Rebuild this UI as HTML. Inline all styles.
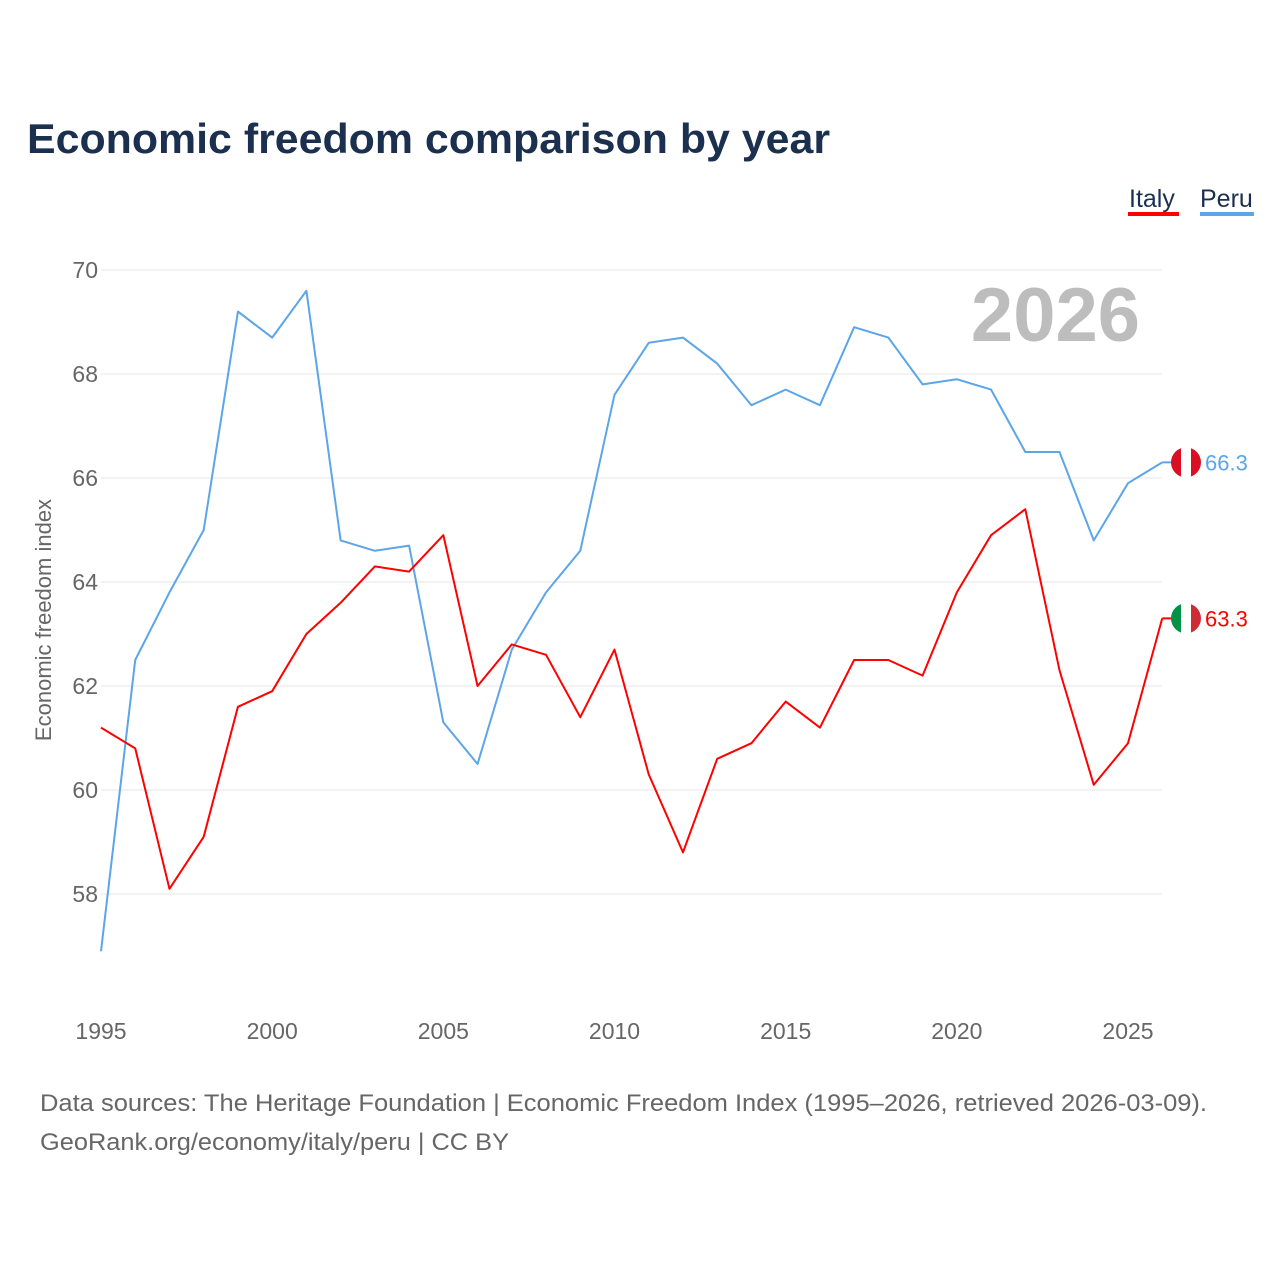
<!DOCTYPE html>
<html><head><meta charset="utf-8"><style>
body{margin:0;background:#fff;width:1280px;height:1280px;overflow:hidden;font-family:"Liberation Sans",sans-serif}
</style></head><body>
<svg id="chart" width="1280" height="1280" xmlns="http://www.w3.org/2000/svg">
<text x="27" y="153" font-size="42" font-weight="bold" fill="#1b2f4e" textLength="803" lengthAdjust="spacingAndGlyphs">Economic freedom comparison by year</text>
<g>
<text x="1129" y="207" font-size="25" fill="#1b2f4e">Italy</text>
<rect x="1128" y="212" width="51" height="4" fill="#ff0000"/>
<text x="1200" y="207" font-size="25" fill="#1b2f4e">Peru</text>
<rect x="1200" y="212" width="54" height="4" fill="#5ba5e8"/>
</g>
<g id="grid"></g>
<text x="1140" y="341" font-size="76" font-weight="bold" fill="#bdbdbd" text-anchor="end">2026</text>
<text transform="translate(51,620) rotate(-90)" font-size="22" fill="#666" text-anchor="middle">Economic freedom index</text>
<g id="series"></g>
<text x="40" y="1111" font-size="24" fill="#666" textLength="1167" lengthAdjust="spacingAndGlyphs">Data sources: The Heritage Foundation | Economic Freedom Index (1995–2026, retrieved 2026-03-09).</text>
<text x="40" y="1150" font-size="24" fill="#666" textLength="469" lengthAdjust="spacingAndGlyphs">GeoRank.org/economy/italy/peru | CC BY</text>
</svg>
<script>
const years=[];for(let y=1995;y<=2026;y++)years.push(y);
const peru=[56.9,62.5,63.8,65.0,69.2,68.7,69.6,64.8,64.6,64.7,61.3,60.5,62.7,63.8,64.6,67.6,68.6,68.7,68.2,67.4,67.7,67.4,68.9,68.7,67.8,67.9,67.7,66.5,66.5,64.8,65.9,66.3];
const italy=[61.2,60.8,58.1,59.1,61.6,61.9,63.0,63.6,64.3,64.2,64.9,62.0,62.8,62.6,61.4,62.7,60.3,58.8,60.6,60.9,61.7,61.2,62.5,62.5,62.2,63.8,64.9,65.4,62.3,60.1,60.9,63.3];
const yTicks=[58,60,62,64,66,68,70];
const xTicks=[1995,2000,2005,2010,2015,2020,2025];
const NS="http://www.w3.org/2000/svg";
const X=y=>101+(y-1995)*(1128-101)/30;
const Y=v=>270+(70-v)*52;
function mk(tag,attrs,parent){const e=document.createElementNS(NS,tag);for(const k in attrs)e.setAttribute(k,attrs[k]);parent.appendChild(e);return e;}
const grid=document.getElementById('grid');
yTicks.forEach(t=>{
 const l=mk('line',{x1:101,x2:1162,y1:Y(t),y2:Y(t),stroke:'#e6e6e6','stroke-width':1},grid);
 
 
 const tx=mk('text',{x:98,y:Y(t)+8,'font-size':23,fill:'#666','text-anchor':'end'},grid);
 tx.textContent=t;
 
 
});
xTicks.forEach(t=>{
 const tx=mk('text',{x:X(t),y:1039,'font-size':23,fill:'#666','text-anchor':'middle'},grid);
 tx.textContent=t;
 
 
});
const sg=document.getElementById('series');
function series(vals,color,name,flag){
 const p=mk('polyline',{points:vals.map((v,i)=>X(years[i])+','+Y(v)).join(' '),fill:'none',stroke:color,'stroke-width':2,'stroke-linejoin':'round'},sg);
 
 
 const last=vals[vals.length-1],cy=Y(last),cx=1186;
 mk('line',{x1:X(2026),x2:cx,y1:cy,y2:cy,stroke:color,'stroke-width':2},sg);
 const g=mk('g',{},sg);
 
 
 const cid='clip-'+name;
 const cp=mk('clipPath',{id:cid},g);mk('circle',{cx:cx,cy:cy,r:15},cp);
 const w=30/3;
 flag.forEach((c,i)=>mk('rect',{x:cx-15+i*w,y:cy-15,width:w+0.5,height:30,fill:c,'clip-path':'url(#'+cid+')'},g));
 const t=mk('text',{x:1205,y:cy+8,'font-size':22,fill:color},sg);
 t.textContent=last.toFixed(1);
 
 
}
series(peru,'#5ba5e8','peru',['#d91023','#ffffff','#d91023']);
series(italy,'#ff0000','italy',['#009246','#ffffff','#ce2b37']);
</script>
</body></html>
